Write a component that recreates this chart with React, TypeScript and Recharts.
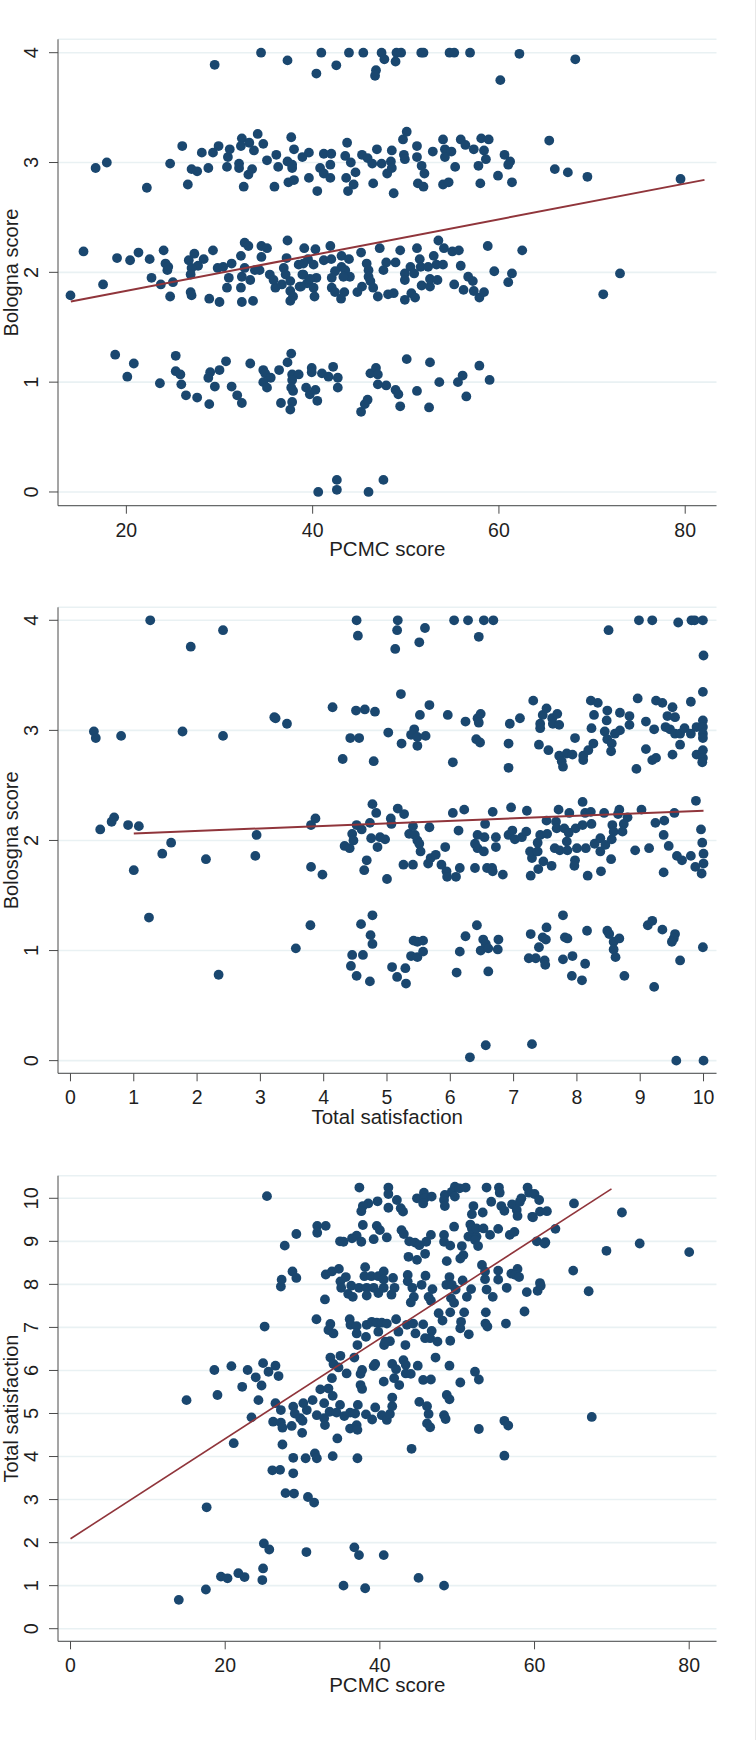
import React from 'react';
import { ScatterChart, Scatter, XAxis, YAxis, CartesianGrid, Label } from 'recharts';

const pcmcTicks = [20, 40, 60, 80];
const pcmcTicksZero = [0, 20, 40, 60, 80];
const satisfactionTicks = [0, 1, 2, 3, 4, 5, 6, 7, 8, 9, 10];
const bolognaTicks = [0, 1, 2, 3, 4];

const a4: number[][] = [[29.48,3.89],[34.46,4],[37.3,3.93],[40.93,4],[42.54,3.885],[40.4,3.81],[43.9,4],[45.44,4],[47.4,4],[47.7,3.94],[46.8,3.84],[46.7,3.79],[48.9,3.92],[49,4],[49.5,4],[51.66,4],[51.9,4],[54.7,4],[55.2,4],[56.9,4],[60.15,3.75],[62.2,3.99],[68.2,3.94]];
const a3: number[][] = [[16.7,2.95],[17.9,3],[22.2,2.77],[24.7,2.99],[26,3.15],[26.6,2.8],[27,2.94],[27.6,2.92],[28.1,3.09],[28.8,2.95],[29.3,3.09],[29.9,3.15],[30.8,2.96],[30.9,3.05],[31.1,3.12],[32.1,2.99],[32.1,2.95],[32.4,3.22],[32.3,3.15],[32.6,2.78],[33.1,2.89],[33.5,2.94],[33.2,3.18],[33.7,3.11],[34.1,3.26],[34.7,3.17],[35.1,3.02],[35.9,2.78],[36.1,3.07],[36.3,2.96],[37.3,3.01],[37.4,2.82],[38,2.84],[37.7,3.23],[38,3.12],[37.8,2.95],[37.8,2.98],[38.9,3.05],[39.6,3.09],[39.6,2.86],[40.5,2.74],[40.8,2.95],[41.2,3.08],[41.2,2.9],[41.9,2.98],[42,3.08],[41.9,2.86],[43.5,3.06],[43.7,3.18],[43.6,2.86],[43.8,2.74],[44.1,3],[44.6,2.91],[44.4,2.8],[45.3,3.07],[45.9,3.04],[46.5,2.81],[46.4,2.99],[46.9,3.12],[47.4,2.99],[48,2.9],[48.4,3.01],[48.5,3.11],[48.5,2.95],[48.7,2.72],[49.7,3.21],[50.1,3.28],[49.8,3.07],[49.9,3.03],[51.2,3.05],[51.2,3.15],[51.7,2.97],[52,2.9],[51.3,2.81],[51.9,2.78],[52.9,3.1],[54,3.21],[54.2,3.12],[54.9,3.1],[54.2,3.05],[55.3,2.96],[54,2.8],[54.6,2.82],[55.9,3.21],[56.4,3.16],[57.3,3.12],[58.1,3.22],[58.9,3.21],[58.4,3.11],[58.6,3.03],[57.8,2.97],[58,2.81],[59.9,2.88],[60.6,3.07],[61.2,3.01],[61,2.98],[61.4,2.82],[65.4,3.2],[66,2.94],[67.4,2.91],[69.5,2.87],[79.5,2.85]];
const a2Left: number[][] = [[15.4,2.19],[14,1.79],[17.5,1.89],[19,2.13],[20.4,2.11],[21.3,2.18],[22.5,2.12],[24,2.2],[22.7,1.95],[23.7,1.89],[24.2,2.08],[24.5,2.05],[24.4,2.02],[25,1.91],[24.7,1.78],[26.9,1.82],[27,1.79],[26.7,2.11],[27.3,2.17],[28.3,2.12],[27.7,2.06],[27,2.04],[26.9,1.98],[29.3,2.2],[28.9,1.76],[30,1.73],[32.4,1.73],[33.6,1.74],[29.8,2.04],[30.4,2.05],[31.3,2.08],[31,1.95],[30.8,1.86],[32.3,2.15],[32.7,2.27],[33.1,2.24],[34.5,2.24],[35.1,2.22],[34.5,2.14],[37.3,2.29],[39.1,2.22],[32.3,1.86],[32.4,1.96],[33.3,1.93],[32.7,2.04],[33.8,2.02],[34.3,2.02],[35.4,1.98],[36,1.86],[35.8,1.93],[36.9,2.04],[37.2,2.13],[37.1,1.98],[36.7,1.89],[37.6,1.92],[37.6,1.83],[37.9,1.78],[37.6,1.74],[38.6,1.87],[38.5,2.07],[39,1.98],[39.5,2.12],[39.4,1.9]];
const a2Right: number[][] = [[40.3,2.21],[41.9,2.24],[45.2,2.18],[47.2,2.22],[49.4,2.2],[51.2,2.22],[53.5,2.29],[54.1,2.22],[55,2.19],[55.7,2.2],[58.8,2.24],[62.5,2.2],[39,2.08],[40.1,2.07],[41.2,2.11],[42,2.12],[43.1,2.15],[43.9,2.12],[43.1,2.05],[42.4,2.01],[43.5,2.02],[44,1.96],[43.3,1.96],[42.05,1.95],[40.4,1.95],[39.7,1.94],[38.9,1.98],[40.1,1.86],[38.75,1.87],[40.2,1.78],[42.05,1.86],[42.4,1.82],[43.4,1.82],[43.05,1.76],[45.8,2.08],[46,2.02],[46,1.96],[46.2,1.92],[45.3,1.87],[44.8,1.82],[46.5,1.86],[47,1.78],[48.1,1.8],[48.7,1.81],[47.9,2.09],[47.6,2.02],[48.9,2.09],[50.5,2.05],[49.9,1.99],[50.9,1.99],[49.9,1.93],[51.5,2.12],[51.6,2.05],[52.4,2.05],[53,2.15],[53.3,2.07],[54,2.07],[51.7,1.88],[52.6,1.87],[52.6,1.94],[53.4,1.93],[50.6,1.81],[51,1.77],[49.9,1.75],[55.9,2.06],[55.2,1.89],[56.2,1.84],[56.7,1.96],[57.2,1.92],[57.3,1.83],[57.9,1.77],[58.4,1.82],[59.5,2.01],[61.4,1.99],[61,1.91],[73,1.99],[71.2,1.8]];
const a1: number[][] = [[18.8,1.25],[20.8,1.17],[20.1,1.05],[23.6,0.99],[25.3,1.24],[25.3,1.1],[25.8,1.07],[25.9,0.98],[26.4,0.88],[27.6,0.86],[28.9,0.8],[29,1.09],[28.8,1.04],[29.5,0.96],[30,1.11],[30.7,1.19],[31.3,0.96],[31.9,0.88],[32.4,0.81],[33.3,1.17],[34.7,1.11],[34.9,1.08],[35.5,1.04],[34.7,1],[35.1,0.95],[36.4,1.11],[36.6,0.81],[37.3,1.18],[37.7,1.26],[37.8,1.07],[38.5,1.07],[37.8,1.02],[37.7,0.95],[37.9,0.92],[37.8,0.82],[37.6,0.75],[39.3,0.95],[39.7,0.89],[40.3,0.93],[40.5,0.83],[39.9,1.13],[39.9,1.09],[41,1.08],[41.7,1.05],[42.2,1.14],[42.7,1.04],[42.7,0.95],[45.2,0.73],[45.6,0.8],[45.9,0.84],[46.2,1.08],[46.8,1.13],[47,1.07],[47,0.98],[47.9,0.97],[48.9,0.93],[49.2,0.89],[49.4,0.78],[50.1,1.21],[51.2,0.92],[52.6,1.18],[52.5,0.77],[53.6,1],[55.6,1],[56.1,1.06],[56.5,0.87],[57.9,1.15],[59,1.02]];
const a0: number[][] = [[40.6,0],[42.6,0.11],[42.6,0.02],[46,0],[47.6,0.11]];
const aFit: number[][] = [[14.04,1.734],[82.07,2.842]];

const b4: number[][] = [[1.26,4],[2.41,3.91],[1.9,3.76],[4.52,4],[4.54,3.86],[5.17,4],[5.16,3.91],[5.6,3.93],[5.51,3.8],[5.13,3.74],[6.06,4],[6.28,4],[6.53,4],[6.68,4],[6.45,3.85],[8.5,3.91],[8.98,4],[9.19,4],[9.6,3.98],[9.81,4],[9.86,4],[9.99,4],[10,3.68]];
const b3: number[][] = [[0.37,2.99],[0.4,2.93],[0.8,2.95],[1.77,2.99],[2.41,2.95],[3.22,3.12],[3.24,3.11],[3.42,3.06],[4.14,3.21],[4.3,2.74],[4.42,2.93],[4.56,2.93],[4.51,3.18],[4.65,3.19],[4.81,3.17],[4.79,2.72],[5.02,2.98],[5.22,3.33],[5.23,2.88],[5.43,3.01],[5.38,2.96],[5.48,2.94],[5.48,2.86],[5.52,3.14],[5.61,2.95],[5.67,3.23],[5.96,3.14],[6.04,2.71],[6.24,3.08],[6.41,2.92],[6.47,2.89],[6.43,3.11],[6.48,3.15],[6.45,3.07],[6.92,2.88],[6.92,2.66],[6.94,3.06],[7.1,3.11],[7.31,3.27],[7.4,2.87],[7.55,2.82],[7.42,3.06],[7.42,3.02],[7.46,3.14],[7.52,3.2],[7.61,3.11],[7.62,3.06],[7.72,3.05],[7.69,3.15],[7.72,2.77],[7.76,2.72],[7.78,2.67],[7.84,2.79],[7.93,2.78],[7.97,2.93],[8.1,2.73],[8.1,2.77],[8.18,2.82],[8.26,2.88],[8.22,3.27],[8.33,3.25],[8.23,3.02],[8.27,3.14],[8.48,3.18],[8.47,3.09],[8.44,2.99],[8.48,2.92],[8.55,2.88],[8.54,2.81],[8.68,3.16],[8.68,3],[8.6,2.97],[8.83,3.13],[8.83,3.05],[8.94,2.65],[8.96,3.29],[9.09,3.08],[9.09,2.83],[9.19,2.73],[9.25,2.75],[9.22,3.01],[9.25,3.27],[9.35,3.25],[9.51,3.21],[9.43,3.13],[9.55,3.12],[9.4,3.03],[9.47,3.01],[9.55,2.97],[9.63,2.97],[9.7,3.02],[9.51,2.78],[9.63,2.87],[9.8,3.26],[9.8,2.97],[9.89,3.03],[9.99,3.35],[9.99,3.09],[9.99,3.03],[9.99,2.97],[9.99,2.93],[9.89,2.78],[9.99,2.82],[9.99,2.75],[9.98,2.71]];
const b2Left: number[][] = [[0.47,2.1],[0.65,2.17],[0.69,2.21],[0.91,2.14],[1.08,2.13],[1,1.73],[1.45,1.88],[1.59,1.98],[2.14,1.83],[2.94,2.05],[2.92,1.86],[3.8,2.14],[3.87,2.2],[3.8,1.76],[3.98,1.69],[4.33,1.95],[4.41,1.93],[4.45,2.06],[4.47,2],[4.52,2.14],[4.6,2.1],[4.64,1.73],[4.68,1.82],[4.73,2.16],[4.77,2.33],[4.83,2.25],[4.75,2.02],[4.85,1.94],[4.89,2.03],[4.97,2.01],[5,1.65],[5.06,2.2],[5.07,2.15],[5.17,2.29],[5.27,2.24],[5.26,1.78],[5.41,1.78],[5.35,2.06],[5.41,2.13],[5.44,2.05],[5.48,2],[5.51,1.97],[5.53,1.9],[5.67,2.12],[5.65,1.79],[5.69,1.84],[5.77,1.87],[5.86,1.78],[5.92,1.94],[5.94,1.72],[5.95,1.67],[6.09,1.67],[6.15,1.75],[6.04,2.25],[6.13,2.09],[6.22,2.28],[6.39,1.75],[6.39,1.97],[6.43,1.93],[6.43,2.05],[6.54,2.03],[6.55,2.15],[6.53,1.9],[6.58,1.75],[6.66,1.75],[6.67,1.72],[6.67,2.26],[6.72,2.03],[6.72,1.94],[6.83,1.69],[6.96,2.3],[6.92,2.05],[6.98,2.09],[7.02,2.01],[7.13,2.03],[7.2,2.08],[7.21,2.27]];
const b2Right: number[][] = [[7.27,1.68],[7.29,1.84],[7.26,1.9],[7.38,1.9],[7.38,1.98],[7.42,2.05],[7.53,2.06],[7.52,2.18],[7.39,1.74],[7.47,1.81],[7.6,1.77],[7.97,1.82],[7.96,1.77],[8.17,1.68],[8.38,1.72],[8.54,1.83],[7.65,1.93],[7.73,1.91],[7.85,1.91],[7.84,1.99],[8,1.93],[8.14,1.93],[8.28,1.97],[8.37,2.02],[8.37,1.9],[8.45,1.96],[8.55,2.01],[7.67,2.17],[7.68,2.11],[7.8,2.11],[7.87,2.07],[7.98,2.11],[8.09,2.14],[8.23,2.15],[7.71,2.28],[7.88,2.25],[8.13,2.25],[8.22,2.26],[8.09,2.35],[8.43,2.25],[8.67,2.28],[8.65,2.24],[8.8,2.21],[9.02,2.28],[8.56,2.14],[8.74,2.15],[8.58,2.08],[8.72,2.08],[8.92,1.91],[9.14,1.93],[9.24,2.16],[9.38,2.18],[9.37,2.05],[9.45,1.95],[9.54,2.25],[9.58,1.86],[9.66,1.82],[9.8,1.86],[9.37,1.71],[9.88,2.36],[9.96,2.1],[9.98,1.98],[10,1.88],[10,1.79],[9.87,1.76],[9.97,1.7]];
const b1: number[][] = [[1.24,1.3],[2.34,0.78],[3.56,1.02],[3.79,1.23],[4.59,1.24],[4.77,1.32],[4.74,1.14],[4.77,1.06],[4.45,0.96],[4.62,0.96],[4.43,0.86],[4.52,0.77],[4.73,0.72],[5.08,0.85],[5.16,0.76],[5.29,0.84],[5.3,0.7],[5.38,0.95],[5.48,0.94],[5.57,0.99],[5.42,1.09],[5.48,1.08],[5.57,1.09],[6.1,0.8],[6.15,0.99],[6.24,1.13],[6.42,1.23],[6.48,1],[6.52,1.1],[6.56,1.06],[6.6,1.02],[6.75,1.01],[6.76,1.1],[6.6,0.81],[7.27,1.15],[7.24,0.93],[7.35,0.93],[7.4,1.03],[7.46,1.12],[7.51,1.1],[7.52,1.21],[7.49,0.91],[7.5,0.87],[7.78,1.32],[7.81,1.12],[7.85,1.11],[7.78,0.92],[7.93,0.95],[7.92,0.77],[8.08,0.73],[8.13,0.88],[8.16,1.18],[8.48,1.18],[8.51,1.15],[8.58,1.08],[8.67,1.11],[8.58,1.01],[8.61,0.94],[8.75,0.77],[9.12,1.23],[9.19,1.27],[9.35,1.19],[9.55,1.15],[9.53,1.11],[9.5,1.08],[9.63,0.91],[9.22,0.67],[9.99,1.03]];
const b0: number[][] = [[6.31,0.03],[6.56,0.14],[7.29,0.15],[9.57,0],[10,0]];
const bFit: number[][] = [[1,2.064],[10,2.27]];

const c10: number[][] = [[37.35,10.25],[41.1,10.25],[41.1,10.1],[39.7,9.93],[38.5,9.88],[37.8,9.82],[37.6,9.7],[42.2,9.96],[41.1,9.78],[42.7,9.77],[43,9.69],[44.8,10],[45.7,10.13],[45.8,10],[46.7,10.04],[45.6,9.88],[48.4,10.08],[48.3,9.96],[48.4,9.82],[49.3,10.15],[49.7,10.27],[49.7,10.04],[50.3,10.23],[51.1,10.25],[53.8,10.25],[55.4,10.25],[55.5,10.13],[52.1,9.82],[51.9,9.63],[53.3,9.67],[54.4,9.92],[55.7,9.82],[56.1,9.71],[57.1,9.86],[57.7,9.73],[57.8,9.59],[58.3,10],[58.1,9.92],[59.1,10.25],[59.3,10.13],[60,10.1],[60.6,9.96],[59.7,9.57],[60.7,9.69],[61.6,9.7],[59.8,9.56],[65.1,9.88],[71.3,9.67],[25.4,10.05]];
const c9: number[][] = [[31.9,9.36],[31.9,9.2],[33,9.36],[34.85,9],[35.3,8.99],[36.4,9.07],[37,9.13],[37.6,8.99],[37.8,9.38],[39.2,9.05],[39.6,9.36],[40,9.26],[40.9,9.09],[42.8,9.26],[43.1,9.17],[43.8,9],[44.55,8.97],[45.1,8.91],[46,8.99],[46.6,9.15],[45.85,8.71],[43.7,8.64],[44.8,8.57],[48.3,9.15],[48.3,8.99],[49.1,8.9],[49.6,9.34],[50.6,8.89],[50.8,8.68],[50.4,8.6],[48.65,8.54],[51.45,9.11],[51.7,9.39],[52.1,9.22],[52.5,9.11],[52.3,9.03],[51.9,9.3],[52.5,9.3],[53.4,9.3],[52.7,8.89],[54.25,9.15],[55.3,9.29],[56.8,9.15],[57.4,9.22],[60.3,9],[61.4,8.98],[27.7,8.9],[29.2,9.17],[62.7,9.29],[73.6,8.95],[69.3,8.78],[80,8.75],[61.3,8.95]];
const c8: number[][] = [[27.2,7.95],[27.3,8.11],[28.7,8.3],[29.2,8.15],[33,8.23],[33.8,8.3],[34.7,8.36],[32.9,7.65],[34.9,8.07],[35.6,8.17],[35,7.92],[36.3,7.97],[35.9,7.78],[36.5,7.71],[37.3,7.92],[38.1,8.4],[38,8.19],[38.9,8.19],[38.3,7.92],[38.3,7.74],[39.2,7.92],[39.8,8.19],[40.5,8.3],[40.5,8.11],[39.8,7.8],[40.5,7.92],[41.7,8.15],[41.9,7.92],[41.5,7.76],[43.6,8.22],[43.6,8.07],[44.2,7.92],[45.9,8.2],[45.4,7.99],[46.8,7.89],[44.4,7.71],[44,7.58],[46.3,7.71],[46.6,7.62],[48.6,7.99],[49,8.17],[49.3,7.99],[49.8,7.88],[50.7,8.09],[51.25,7.71],[51.8,7.89],[49.2,7.68],[49.6,7.57],[53.2,8.45],[53.6,8.3],[53.6,8.12],[53.8,7.88],[54.6,7.71],[55.3,8.32],[55.3,8.11],[56.4,7.92],[57,8.25],[57.8,8.36],[57.5,8.22],[58,8.17],[59,7.82],[60.4,7.85],[60.7,8.03],[60.8,7.97],[65,8.32],[67,7.84]];
const c7: number[][] = [[25.1,7.02],[31.8,7.19],[33.6,7.08],[33.35,6.94],[34,6.86],[36.1,7.19],[36.2,7.06],[37,7.03],[37,6.86],[38.3,7.06],[38.2,6.78],[38.95,7.13],[39.6,7.11],[40.25,7.11],[40.9,7.09],[39.8,6.9],[42.1,7.19],[42.4,6.9],[43.5,7.06],[44.3,7.09],[45.6,7.07],[44.6,6.86],[46.7,6.92],[45.85,6.75],[46.5,6.75],[47.45,6.67],[49.1,6.69],[47.6,7.33],[48.1,7.16],[49.1,7.35],[50.9,7.35],[50.5,7.13],[50.4,6.98],[51.5,6.84],[53.65,7.09],[53.9,7.02],[53.7,7.35],[56.3,7.09],[58.7,7.37],[37.1,6.59],[40.55,6.59],[41.3,6.68],[40.7,6.67],[43.3,6.59]];
const c6: number[][] = [[33.6,6.3],[34.9,6.34],[34,6.15],[34.65,6.07],[36.7,6.3],[35.7,5.93],[33.8,5.82],[37.7,6.01],[37.5,5.92],[39.2,6.1],[39.4,6.15],[41.6,6.15],[42.1,6.03],[43.05,6.24],[43.35,6.13],[43.35,5.93],[44,5.92],[44.9,6.11],[47.2,6.3],[49,6.11],[52.3,5.97],[52.8,5.79],[41.85,5.82],[42.5,5.66],[40.5,5.74],[37.5,5.66],[37.7,5.57],[45.6,5.78],[46.6,5.79],[50.4,5.72],[22.9,6.01],[23.95,5.84],[24.9,6.17],[25.6,5.97],[26.5,6.11],[26.9,5.87],[24.7,5.65],[22.2,5.62],[18.6,6.01],[20.8,6.1]];
const c5: number[][] = [[24.3,5.31],[26.5,5.24],[27.2,5.08],[23.4,4.91],[26.2,4.81],[27.2,4.79],[27.4,4.67],[28.6,4.71],[29.95,4.55],[28.8,5.16],[29,5],[29.7,4.89],[30.1,5.24],[30.55,5.08],[31.3,5.31],[30,4.83],[31.85,4.96],[32.8,4.89],[32.9,4.73],[32.3,5.56],[33.35,5.58],[33.9,5.41],[32.8,5.24],[33.5,5.04],[34.85,5.2],[34.4,5.02],[35.4,4.94],[36.15,5.02],[36.8,5],[37.15,5.2],[36.15,4.65],[37,4.73],[37.1,4.62],[38.2,4.98],[39,4.86],[39.4,5.14],[40.25,4.96],[40.9,4.85],[41.3,4.99],[41.6,5.17],[41.6,5.37],[45.1,5.27],[46.1,5.17],[46.3,4.99],[46.1,4.77],[46.5,4.68],[48.3,4.96],[48.5,4.87],[48.65,5.43],[49,5.33],[52.8,4.64],[56.1,4.83],[56.6,4.72],[67.4,4.92],[15,5.31],[19,5.43]];
const cLow: number[][] = [[27.4,4.28],[21.1,4.31],[44.1,4.18],[56.1,4.02],[34.5,4.42],[28.8,3.97],[30.4,3.96],[31.6,4.07],[31.85,3.96],[33.9,4.01],[37.1,3.96],[26.1,3.68],[27.1,3.69],[28.8,3.61],[27.8,3.15],[28.9,3.14],[30.7,3.06],[31.5,2.93],[17.6,2.82],[25,1.98],[25.7,1.84],[30.5,1.78],[36.7,1.89],[37.3,1.71],[40.5,1.71],[24.9,1.4],[24.8,1.13],[19.45,1.21],[20.3,1.17],[21.7,1.29],[22.5,1.2],[17.5,0.91],[14,0.67],[35.3,1],[38.1,0.94],[45,1.18],[48.3,1]];
const cFit: number[][] = [[0,2.09],[69.95,10.22]];

const toPoints = (...groups: number[][][]) => groups.flat().map(([x, y]) => ({ x, y }));

const NAVY = '#1a476f';
const MAROON = '#90353b';
const GRID = '#e9f1f3';
const AXIS = '#4a4a4a';
const FONT = '"Liberation Sans", Arial, sans-serif';
const TEXT = '#1f1f1f';

const XTick = ({ x, y, payload }: any) => (
  <text x={x} y={y + 14} textAnchor="middle" dominantBaseline="central" fontFamily={FONT} fontSize={19.5} fill={TEXT}>
    {payload.value}
  </text>
);

const YTick = ({ y, payload }: any) => (
  <text transform={`rotate(-90 31 ${y})`} x={31} y={y} textAnchor="middle" dominantBaseline="central" fontFamily={FONT} fontSize={20} fill={TEXT}>
    {payload.value}
  </text>
);

const yTitle = (title: string) => ({ viewBox }: any) => {
  const cy = viewBox.y + viewBox.height / 2;
  return (
    <text transform={`rotate(-90 18.2 ${cy})`} x={18.2} y={cy} textAnchor="middle" fontFamily={FONT} fontSize={20} fill={TEXT}>
      {title}
    </text>
  );
};

const xTitle = (title: string) => ({ viewBox }: any) => (
  <text x={viewBox.x + viewBox.width / 2} y={viewBox.y + 43} textAnchor="middle" dominantBaseline="central" fontFamily={FONT} fontSize={20.5} fill={TEXT}>
    {title}
  </text>
);

const noDot = () => null;
const dot = ({ cx, cy }: any) => <circle cx={cx} cy={cy} r={4.9} fill={NAVY} />;

type PanelProps = {
  top: number; marginTop: number; xHeight: number;
  xDomain: number[]; yDomain: number[];
  xTicks: number[]; yTicks: number[];
  xLabel: string; yLabel: string;
  points: { x: number; y: number }[];
  fit: { x: number; y: number }[];
  fitWidth: number;
};

const Panel = ({ top, marginTop, xHeight, xDomain, yDomain, xTicks, yTicks, xLabel, yLabel, points, fit, fitWidth }: PanelProps) => (
  <div style={{ position: 'absolute', left: 0, top }}>
    <ScatterChart width={756} height={580} margin={{ top: marginTop, right: 39.5, bottom: 0, left: 0 }}>
      <CartesianGrid horizontal vertical={false} stroke={GRID} strokeWidth={1.6} />
      <XAxis type="number" dataKey="x" domain={xDomain} ticks={xTicks} height={xHeight} interval={0} allowDataOverflow
        stroke={AXIS} tickLine={{ stroke: AXIS }} tickSize={8} tick={<XTick />}>
        <Label content={xTitle(xLabel)} />
      </XAxis>
      <YAxis type="number" dataKey="y" domain={yDomain} ticks={yTicks} width={58} interval={0} allowDataOverflow
        stroke={AXIS} tickLine={{ stroke: AXIS }} tickSize={9} tick={<YTick />}>
        <Label content={yTitle(yLabel)} />
      </YAxis>
      <Scatter data={points} shape={dot} isAnimationActive={false} />
      <Scatter data={fit} line={{ stroke: MAROON, strokeWidth: fitWidth }} shape={noDot} isAnimationActive={false} />
    </ScatterChart>
  </div>
);

export default function App() {
  return (
    <div style={{ position: 'absolute', left: 0, top: 0, width: 755, height: 1740, background: '#fff', borderRight: '1px solid #e8e8e8' }}>
      <Panel top={0} marginTop={39.3} xHeight={74.3} xDomain={[12.66, 83.36]} yDomain={[-0.125, 4.122]}
        xTicks={pcmcTicks} yTicks={bolognaTicks} xLabel="PCMC score" yLabel="Bologna score"
        points={toPoints(a4, a3, a2Left, a2Right, a1, a0)} fit={toPoints(aFit)} fitWidth={2} />
      <Panel top={580} marginTop={27.3} xHeight={86.7} xDomain={[-0.197, 10.205]} yDomain={[-0.115, 4.118]}
        xTicks={satisfactionTicks} yTicks={bolognaTicks} xLabel="Total satisfaction" yLabel="Bolosgna score"
        points={toPoints(b4, b3, b2Left, b2Right, b1, b0)} fit={toPoints(bFit)} fitWidth={2} />
      <Panel top={1160} marginTop={15.7} xHeight={98.7} xDomain={[-1.62, 83.53]} yDomain={[-0.293, 10.525]}
        xTicks={pcmcTicksZero} yTicks={satisfactionTicks} xLabel="PCMC score" yLabel="Total satisfaction"
        points={toPoints(c10, c9, c8, c7, c6, c5, cLow)} fit={toPoints(cFit)} fitWidth={1.6} />
    </div>
  );
}
